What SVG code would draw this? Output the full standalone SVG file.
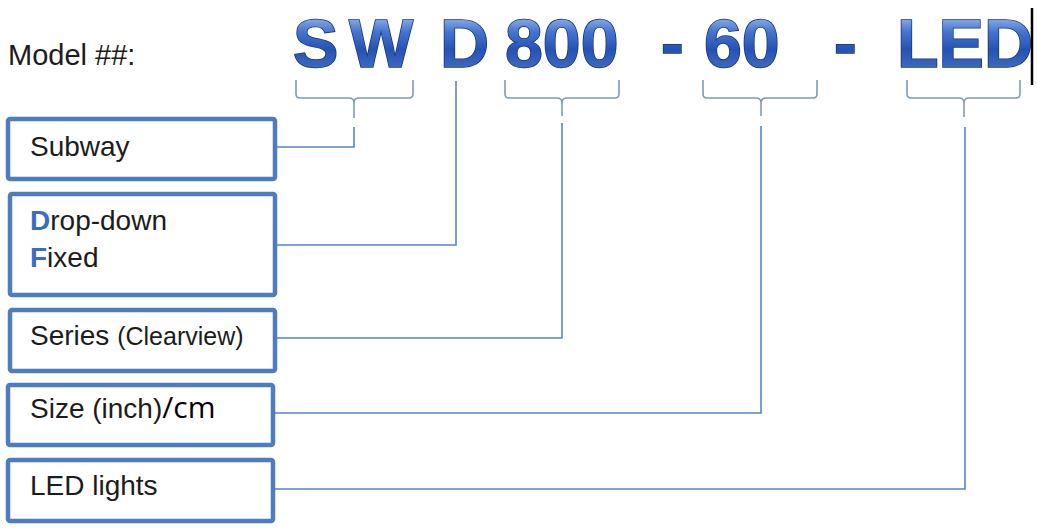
<svg xmlns="http://www.w3.org/2000/svg" width="1037" height="529" viewBox="0 0 1037 529">
<defs>
<linearGradient id="big" x1="0" y1="17" x2="0" y2="67" gradientUnits="userSpaceOnUse">
<stop offset="0" stop-color="#8fb1ea"/>
<stop offset="0.3" stop-color="#4474cf"/>
<stop offset="0.65" stop-color="#2553b5"/>
<stop offset="1" stop-color="#3c68bd"/>
</linearGradient>
</defs>
<style>
.big{font-family:"Liberation Sans",Arial,sans-serif;font-weight:bold;font-size:68px;fill:url(#big);stroke:#1a3472;stroke-width:1.6px;paint-order:stroke}
.lbl{font-family:"Liberation Sans",Arial,sans-serif;font-size:28px;fill:#1c1c1c}
.ini{fill:#3b6bc6;font-weight:bold}
.box{fill:#ffffff;stroke:#4d7dbf;stroke-width:4.5;}
.brace{fill:none;stroke:#7f98bf;stroke-width:1.6}
.conn{fill:none;stroke:#5a84c2;stroke-width:1.6}
</style>
<rect width="1037" height="529" fill="#ffffff"/>

<g id="title">
<text x="8" y="65" font-family="'Liberation Sans',Arial,sans-serif" font-size="29" fill="#1c1c1c">Model ##:</text>
</g>

<g id="model-code">
<text class="big" x="293" y="67">S</text>
<text class="big" x="349" y="67">W</text>
<text class="big" x="440" y="67">D</text>
<text class="big" x="505" y="67">800</text>
<text class="big" x="661" y="67">-</text>
<text class="big" x="704" y="67">60</text>
<text class="big" x="834" y="67">-</text>
<text class="big" x="897" y="67">LED</text>
<line x1="1032" y1="8" x2="1032" y2="85" stroke="#000000" stroke-width="2.5"/>
</g>

<g id="braces">
<path class="brace" d="M296,80 V94 Q296,98 300,98 H349 Q354,98 354,103 Q354,98 359,98 H409 Q413,98 413,94 V80 M354,103 V118"/>
<path class="brace" d="M505,80 V94 Q505,98 509,98 H557 Q562,98 562,103 Q562,98 567,98 H615 Q619,98 619,94 V80 M562,103 V116"/>
<path class="brace" d="M703,80 V94 Q703,98 707,98 H756 Q761,98 761,103 Q761,98 766,98 H813 Q817,98 817,94 V80 M761,103 V116"/>
<path class="brace" d="M907,80 V94 Q907,98 911,98 H959 Q964,98 964,103 Q964,98 969,98 H1016 Q1020,98 1020,94 V80 M964,103 V117"/>
</g>

<g id="connectors">
<path class="conn" d="M354,127 V147 H277"/>
<path class="conn" d="M456,81 V245 H277"/>
<path class="conn" d="M562,123 V338 H277"/>
<path class="conn" d="M761,126 V413 H275"/>
<path class="conn" d="M965,127 V489 H275"/>
</g>

<g id="node-subway">
<rect class="box" x="8" y="119" width="267" height="60" rx="2"/>
<text class="lbl" x="30" y="156">Subway</text>
</g>

<g id="node-dropdown">
<rect class="box" x="10" y="194" width="265" height="101" rx="2"/>
<text class="lbl" x="30" y="230"><tspan class="ini">D</tspan>rop-down</text>
<text class="lbl" x="30" y="267"><tspan class="ini">F</tspan>ixed</text>
</g>

<g id="node-series">
<rect class="box" x="10" y="310" width="265" height="61" rx="2"/>
<text class="lbl" x="30" y="345">Series <tspan font-size="25">(Clearview)</tspan></text>
</g>

<g id="node-size">
<rect class="box" x="8" y="385" width="265" height="60" rx="2"/>
<text class="lbl" x="30" y="418">Size (inch)<tspan font-family="'Open Sans',sans-serif" font-size="30" fill="#000000">/cm</tspan></text>
</g>

<g id="node-led">
<rect class="box" x="8" y="460" width="265" height="61" rx="2"/>
<text class="lbl" x="30" y="495">LED lights</text>
</g>
</svg>
